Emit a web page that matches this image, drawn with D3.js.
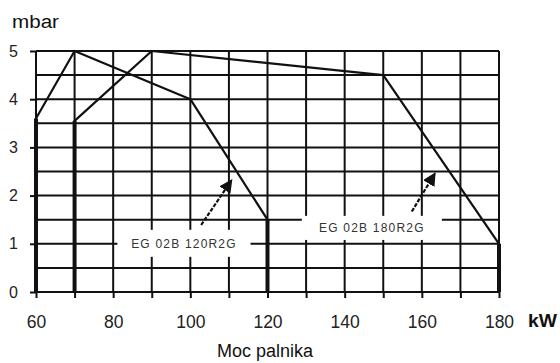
<!DOCTYPE html>
<html>
<head>
<meta charset="utf-8">
<script src="https://cdn.jsdelivr.net/npm/d3@7/dist/d3.min.js"></script>
<style>
  body { margin: 0; background: #fff; }
  svg { display: block; font-family: "Liberation Sans", Arial, sans-serif; }
</style>
</head>
<body>
<svg id="chart" width="560" height="363"></svg>
<script>
// burner power (kW) vs combustion chamber pressure (mbar)
const kw120 = [60, 60, 70, 100, 120, 120];
const mbar120 = [0, 3.6, 5, 4, 1.5, 0];
const kw180 = [70, 70, 90, 150, 180, 180];
const mbar180 = [0, 3.55, 5, 4.5, 1, 0];

const xTicks = [60, 70, 80, 90, 100, 110, 120, 130, 140, 150, 160, 170, 180];
const yTicks = [0, 1, 2, 3, 4, 5];
const yGrid = [0, 0.5, 1, 1.5, 2, 2.5, 3, 3.5, 4, 4.5, 5];

const labels = ["EG 02B 120R2G", "EG 02B 180R2G"];
// label boxes and arrows, in kW / mbar
const labelBox = [
  { x0: 81.1, x1: 115.6, y0: 0.73, y1: 1.29 },
  { x0: 128.9, x1: 165.2, y0: 1.08, y1: 1.58 }
];
const arrowFrom = [[102.8, 1.39], [157.4, 1.67]];
const arrowTo = [[110.7, 2.32], [163.4, 2.46]];

const svg = d3.select("#chart");
const x = d3.scaleLinear().domain([60, 180]).range([36, 499]);
const y = d3.scaleLinear().domain([0, 5]).range([292, 51]);
const ink = "#111";

// grid
const g = svg.append("g");
g.selectAll(".vgrid").data(xTicks).enter().append("line")
  .attr("x1", d => x(d)).attr("x2", d => x(d))
  .attr("y1", y(5)).attr("y2", y(0))
  .attr("stroke", ink).attr("stroke-width", 2);
g.selectAll(".hgrid").data(yGrid).enter().append("line")
  .attr("x1", x(60)).attr("x2", x(180))
  .attr("y1", d => y(d)).attr("y2", d => y(d))
  .attr("stroke", ink).attr("stroke-width", 2);

// axes
const yAxis = svg.append("g")
  .attr("transform", "translate(" + x(60) + ",0)")
  .call(d3.axisLeft(y).tickValues(yTicks).tickSize(6).tickPadding(12).tickFormat(d3.format("d")));
const xAxis = svg.append("g")
  .attr("transform", "translate(0," + y(0) + ")")
  .call(d3.axisBottom(x).tickValues(xTicks).tickSize(6).tickPadding(18)
    .tickFormat(d => d % 20 === 0 ? d : ""));
[xAxis, yAxis].forEach(a => {
  a.select(".domain").remove();
  a.selectAll(".tick line").attr("stroke", ink).attr("stroke-width", 2);
  a.selectAll(".tick text").attr("fill", "#222").attr("font-size", 17.5)
    .attr("font-family", "Liberation Sans, Arial, sans-serif");
});
yAxis.selectAll(".tick text").attr("font-size", 16);

// label boxes knock out the grid
labelBox.forEach((b, i) => {
  svg.append("rect")
    .attr("x", x(b.x0)).attr("y", y(b.y1))
    .attr("width", x(b.x1) - x(b.x0)).attr("height", y(b.y0) - y(b.y1))
    .attr("fill", "#fff");
  svg.append("text")
    .attr("x", (x(b.x0) + x(b.x1)) / 2).attr("y", (y(b.y0) + y(b.y1)) / 2)
    .attr("dy", "0.35em").attr("text-anchor", "middle")
    .attr("font-size", 12).attr("letter-spacing", 1.2).attr("fill", "#333")
    .text(labels[i]);
});

// curves
const line = d3.line().x(d => x(d[0])).y(d => y(d[1]));
[[kw120, mbar120], [kw180, mbar180]].forEach(([k, m]) => {
  const pts = k.map((v, i) => [v, m[i]]);
  svg.append("path").attr("d", line(pts))
    .attr("fill", "none").attr("stroke", ink).attr("stroke-width", 2.2)
    .attr("stroke-linejoin", "round");
  // heavy vertical limits
  [[pts[0], pts[1]], [pts[pts.length - 2], pts[pts.length - 1]]].forEach(seg => {
    svg.append("path").attr("d", line(seg))
      .attr("fill", "none").attr("stroke", ink).attr("stroke-width", 4);
  });
});

// arrows
svg.append("defs").append("marker")
  .attr("id", "head").attr("viewBox", "0 0 10 10")
  .attr("refX", 9).attr("refY", 5)
  .attr("markerWidth", 6).attr("markerHeight", 6)
  .attr("markerUnits", "strokeWidth").attr("orient", "auto")
  .append("path").attr("d", "M0,0L10,5L0,10Z").attr("fill", ink);
arrowFrom.forEach((f, i) => {
  svg.append("line")
    .attr("x1", x(f[0])).attr("y1", y(f[1]))
    .attr("x2", x(arrowTo[i][0])).attr("y2", y(arrowTo[i][1]))
    .attr("stroke", ink).attr("stroke-width", 2.2)
    .attr("stroke-dasharray", "4,1.5")
    .attr("marker-end", "url(#head)");
});

// titles
svg.append("text").attr("x", 12).attr("y", 28)
  .attr("font-size", 18).attr("fill", "#111")
  .attr("textLength", 47).attr("lengthAdjust", "spacingAndGlyphs").text("mbar");
svg.append("text").attr("x", 528).attr("y", 327)
  .attr("font-size", 18).attr("font-weight", "bold").attr("fill", "#111")
  .attr("textLength", 29).attr("lengthAdjust", "spacingAndGlyphs").text("kW");
svg.append("text").attr("x", 265).attr("y", 357).attr("text-anchor", "middle")
  .attr("font-size", 18).attr("fill", "#111").text("Moc palnika");
</script>
</body>
</html>
